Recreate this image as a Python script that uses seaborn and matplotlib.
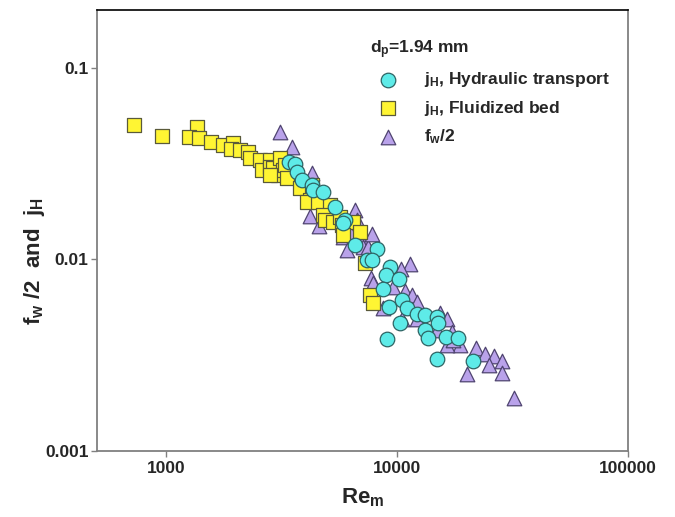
import numpy as np
import pandas as pd
import matplotlib
matplotlib.use("Agg")
import matplotlib.pyplot as plt
from matplotlib.ticker import FixedLocator, NullLocator, FixedFormatter
import seaborn as sns

# ---- data ----
fb_re = [726, 961, 1350, 1246, 1377, 1552, 1750, 1933, 1910, 2073, 2246, 2292, 2532, 2583,
         2798, 2798, 2884, 3092, 3030, 3187, 3251, 3316, 2798, 3776, 4173, 4257, 4049, 4520,
         5096, 4752, 4848, 5252, 5630, 5743, 6411, 5801, 6875, 7228, 7598, 7828]
fb_jh = [0.0502, 0.0440, 0.0490, 0.0435, 0.0430, 0.0410, 0.0395, 0.0405, 0.0376, 0.0372,
         0.0363, 0.0338, 0.0330, 0.0293, 0.0330, 0.0303, 0.0300, 0.0338, 0.0276, 0.0293,
         0.0310, 0.0266, 0.0276, 0.0236, 0.0204, 0.0244, 0.0199, 0.0199, 0.0192, 0.0170,
         0.0161, 0.0157, 0.0166, 0.0151, 0.0157, 0.0134, 0.0139, 0.00958, 0.00652, 0.00592]

ht_re = [3383, 3590, 3664, 3852, 4257, 4299, 4752, 5358, 5918, 5801, 6540, 8149, 7373, 7751,
         9279, 8915, 10150, 8651, 9186, 10459, 10995, 12152, 13160, 14838, 14986, 10252,
         13160, 13560, 16232, 18307, 9004, 14838, 21265]
ht_jh = [0.0322, 0.0316, 0.0286, 0.0260, 0.0244, 0.0230, 0.0225, 0.0188, 0.0161, 0.0155,
         0.0119, 0.0113, 0.00993, 0.00993, 0.00913, 0.00829, 0.00790, 0.00701, 0.00564,
         0.00614, 0.00558, 0.00519, 0.00513, 0.00501, 0.00466, 0.00466, 0.00428, 0.00389,
         0.00394, 0.00389, 0.00384, 0.00302, 0.00295]

fw_re = [3092, 3486, 4257, 4173, 4565, 5801, 6037, 6540, 6672, 6221, 7015, 7085, 7447, 7674,
         7828, 11330, 10356, 9561, 10777, 11559, 12152, 8651, 10459, 12152, 15289, 16396,
         14838, 17234, 18673, 16396, 17410, 21913, 23967, 26223, 28405, 24946, 20016, 28405,
         32020, 7751]
fw_f2 = [0.0462, 0.0386, 0.0282, 0.0168, 0.0149, 0.0131, 0.0112, 0.0181, 0.0161, 0.0139,
         0.0129, 0.0116, 0.0116, 0.00800, 0.00753, 0.00946, 0.00891, 0.00718, 0.00684,
         0.00652, 0.00599, 0.00558, 0.00489, 0.00489, 0.00525, 0.00489, 0.00428, 0.00418,
         0.00358, 0.00358, 0.00380, 0.00345, 0.00321, 0.00313, 0.00295, 0.00281, 0.00252,
         0.00255, 0.00189, 0.0136]

x_ticks = [1000, 10000, 100000]
x_ticklabels = ["1000", "10000", "100000"]
y_ticks = [0.001, 0.01, 0.1]
y_ticklabels = ["0.001", "0.01", "0.1"]

lab_ht = r"j$_H$, Hydraulic transport"
lab_fb = r"j$_H$, Fluidized bed"
lab_fw = r"f$_w$/2"

# ---- style ----
sns.set_style("white")
plt.rcParams["font.family"] = ["Liberation Sans", "DejaVu Sans"]
plt.rcParams["font.weight"] = "bold"
plt.rcParams["mathtext.fontset"] = "custom"
plt.rcParams["mathtext.rm"] = "Liberation Sans:bold"
plt.rcParams["mathtext.it"] = "Liberation Sans:bold"
plt.rcParams["mathtext.bf"] = "Liberation Sans:bold"

fig = plt.figure(figsize=(6.75, 5.17), dpi=100)
ax = fig.add_axes([97 / 675, 1 - 451 / 517, (628 - 97) / 675, (451 - 10) / 517])

df_fb = pd.DataFrame({"Re": fb_re, "v": fb_jh})
df_ht = pd.DataFrame({"Re": ht_re, "v": ht_jh})
df_fw = pd.DataFrame({"Re": fw_re, "v": fw_f2})

sns.scatterplot(data=df_fb, x="Re", y="v", ax=ax, marker="s", s=95,
                color="#FFF533", edgecolor="#5A5A3A", linewidth=0.9, label=lab_fb, zorder=3)
sns.scatterplot(data=df_fw, x="Re", y="v", ax=ax, marker="^", s=110,
                color="#B9A2EA", edgecolor="#4F4470", linewidth=0.9, label=lab_fw, zorder=2)
sns.scatterplot(data=df_ht, x="Re", y="v", ax=ax, marker="o", s=110,
                color="#5EEBE8", edgecolor="#2E6464", linewidth=0.9, label=lab_ht, zorder=4)

ax.set_xscale("log")
ax.set_yscale("log")
ax.set_xlim(500, 100000)
ax.set_ylim(0.001, 0.2)
ax.xaxis.set_major_locator(FixedLocator(x_ticks))
ax.xaxis.set_major_formatter(FixedFormatter(x_ticklabels))
ax.yaxis.set_major_locator(FixedLocator(y_ticks))
ax.yaxis.set_major_formatter(FixedFormatter(y_ticklabels))
ax.xaxis.set_minor_locator(NullLocator())
ax.yaxis.set_minor_locator(NullLocator())

ax.tick_params(axis="both", which="major", direction="out", length=4, width=1,
               color="#808080", labelsize=12.5, pad=2, bottom=True, left=True)
ax.xaxis.set_tick_params(pad=3)
for lab in ax.get_xticklabels() + ax.get_yticklabels():
    lab.set_fontweight("bold")

for side in ["left", "bottom", "right"]:
    ax.spines[side].set_color("#808080")
    ax.spines[side].set_linewidth(1.3)
ax.spines["top"].set_color("#000000")
ax.spines["top"].set_linewidth(1.2)

ax.set_xlabel(r"Re$_m$", fontsize=16, fontweight="bold", labelpad=8)
ax.set_ylabel(r"f$_w$ /2  and  j$_H$", fontsize=16, fontweight="bold")
ax.yaxis.set_label_coords(-0.095, 0.43)

handles, labels = ax.get_legend_handles_labels()
order = [labels.index(lab_ht), labels.index(lab_fb), labels.index(lab_fw)]
leg = ax.legend([handles[i] for i in order], [labels[i] for i in order],
                title=r"d$_p$=1.94 mm", loc="upper left", bbox_to_anchor=(0.505, 0.948),
                frameon=False, fontsize=12.5, title_fontsize=12.5, alignment="left",
                handletextpad=1.1, labelspacing=0.55, borderaxespad=0, borderpad=0.3)
plt.setp(leg.get_title(), fontweight="bold")
for t in leg.get_texts():
    t.set_fontweight("bold")

fig.savefig("out.png", dpi=100)
